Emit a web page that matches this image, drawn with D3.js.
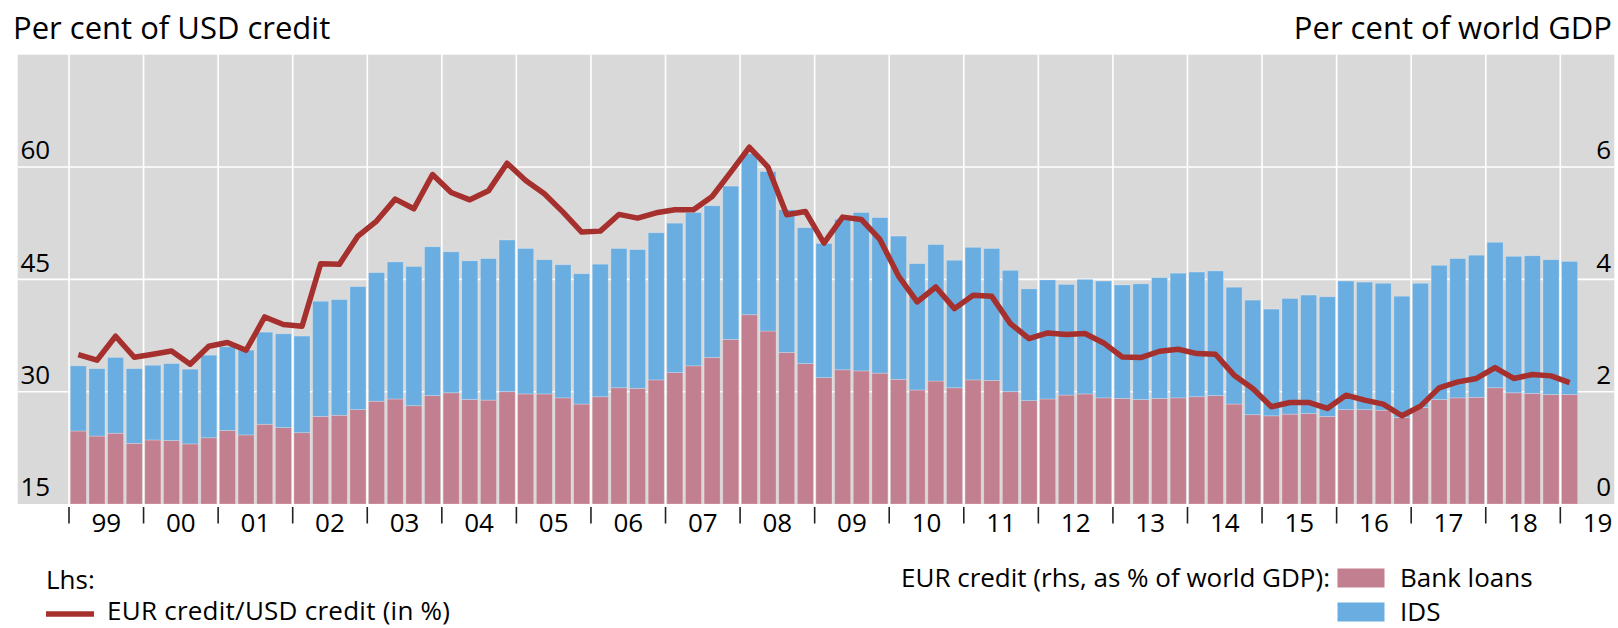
<!DOCTYPE html>
<html>
<head>
<meta charset="utf-8">
<script src="https://cdn.jsdelivr.net/npm/d3@7"></script>
<style>
    body { margin: 0; background: #fff; }
    svg { display: block; font-family: 'Open Sans', sans-serif; }
</style>
</head>
<body>
<svg id="chart"></svg>
<script>
// tick labels for the years, 1999 to 2019
const yearLabels = ['99', '00', '01', '02', '03', '04', '05', '06', '07', '08', '09',
    '10', '11', '12', '13', '14', '15', '16', '17', '18', '19'];
const firstYear = 1999;

// EUR credit, rhs, % of world GDP (quarterly, 1999Q1 - 2019Q1)
const bankLoans = [
    1.30, 1.21, 1.26, 1.08, 1.14, 1.13, 1.07, 1.18, 1.31, 1.23, 1.42, 1.36, 1.27,
    1.56, 1.58, 1.68, 1.83, 1.87, 1.75, 1.93, 1.98, 1.86, 1.85, 2.00, 1.96, 1.96,
    1.89, 1.78, 1.91, 2.07, 2.06, 2.21, 2.34, 2.46, 2.61, 2.93, 3.37, 3.08, 2.70,
    2.50, 2.25, 2.39, 2.37, 2.33, 2.22, 2.03, 2.19, 2.07, 2.21, 2.20, 2.00, 1.84,
    1.87, 1.94, 1.96, 1.89, 1.88, 1.86, 1.88, 1.89, 1.91, 1.93, 1.78, 1.59, 1.57,
    1.60, 1.61, 1.56, 1.68, 1.68, 1.67, 1.54, 1.72, 1.86, 1.89, 1.90, 2.07, 1.98,
    1.97, 1.95, 1.95
];
const ids = [
    1.16, 1.20, 1.35, 1.33, 1.33, 1.37, 1.33, 1.47, 1.49, 1.51, 1.64, 1.67, 1.72,
    2.05, 2.06, 2.19, 2.29, 2.44, 2.48, 2.65, 2.51, 2.47, 2.52, 2.70, 2.59, 2.39,
    2.37, 2.32, 2.36, 2.48, 2.47, 2.62, 2.66, 2.73, 2.70, 2.73, 2.87, 2.84, 2.54,
    2.42, 2.39, 2.68, 2.82, 2.77, 2.55, 2.25, 2.43, 2.27, 2.36, 2.35, 2.16, 1.99,
    2.12, 1.97, 2.04, 2.08, 2.02, 2.06, 2.15, 2.22, 2.22, 2.22, 2.08, 2.04, 1.90,
    2.06, 2.11, 2.13, 2.29, 2.27, 2.26, 2.16, 2.21, 2.39, 2.48, 2.53, 2.59, 2.43,
    2.45, 2.40, 2.37
];
// EUR credit / USD credit, lhs, %
const eurUsdRatio = [
    34.96, 34.2, 37.4, 34.6, 35.0, 35.44, 33.67, 36.07, 36.56, 35.53, 39.98, 38.96, 38.73,
    47.09, 47.0, 50.78, 52.78, 55.71, 54.42, 59.0, 56.6, 55.62, 56.82, 60.51, 58.2, 56.42,
    53.98, 51.31, 51.44, 53.67, 53.18, 53.89, 54.29, 54.29, 56.07, 59.31, 62.64, 59.98, 53.62,
    54.07, 49.84, 53.31, 53.0, 50.33, 45.44, 41.98, 43.98, 41.09, 42.87, 42.73, 39.09, 37.09,
    37.84, 37.62, 37.76, 36.51, 34.64, 34.56, 35.4, 35.67, 35.09, 35.0, 32.2, 30.42, 27.98,
    28.56, 28.56, 27.76, 29.53, 28.87, 28.33, 26.78, 28.07, 30.51, 31.31, 31.76, 33.22, 31.76,
    32.29, 32.11, 31.22
];
const leftTicks = [15, 30, 45, 60];
const rightTicks = [0, 2, 4, 6];

const width = 1618;
const height = 628;
const plot = { left: 17.7, right: 1614.3, top: 54.7, bottom: 504 };
const colors = { bg: '#d9d9d9', loans: '#c17f8f', ids: '#6aade0', line: '#a5302d' };

const svg = d3.select('#chart').attr('width', width).attr('height', height);

const x = d3.scaleLinear()
    .domain([1998.312, 2019.724])
    .range([plot.left, plot.right]);
const yL = d3.scaleLinear().domain([15, 75]).range([plot.bottom, plot.top]);
const yR = d3.scaleLinear().domain([0, 8]).range([plot.bottom, plot.top]);

const qWidth = x(firstYear + 0.25) - x(firstYear);
const barWidth = qWidth * 0.86;

const data = bankLoans.map((b, i) => ({
    t: firstYear + i / 4,
    loans: b,
    ids: ids[i],
    ratio: eurUsdRatio[i]
}));

// background
svg.append('rect')
    .attr('x', plot.left).attr('y', plot.top)
    .attr('width', plot.right - plot.left).attr('height', plot.bottom - plot.top)
    .attr('fill', colors.bg);

// gridlines
const years = yearLabels.map((d, i) => firstYear + i);
svg.append('g').selectAll('line')
    .data(years)
    .enter().append('line')
    .attr('x1', d => x(d)).attr('x2', d => x(d))
    .attr('y1', plot.top).attr('y2', plot.bottom)
    .attr('stroke', '#fff').attr('stroke-width', 1.6);

svg.append('g').selectAll('line')
    .data(leftTicks.slice(1))
    .enter().append('line')
    .attr('x1', plot.left).attr('x2', plot.right)
    .attr('y1', d => yL(d)).attr('y2', d => yL(d))
    .attr('stroke', '#fff').attr('stroke-width', 1.6);

// stacked bars
const bars = svg.append('g');
bars.selectAll('.loans')
    .data(data)
    .enter().append('rect')
    .attr('class', 'loans')
    .attr('x', d => x(d.t) + (qWidth - barWidth) / 2)
    .attr('width', barWidth)
    .attr('y', d => yR(d.loans))
    .attr('height', d => yR(0) - yR(d.loans))
    .attr('fill', colors.loans)
    .attr('stroke', 'rgba(255,255,255,0.3)').attr('stroke-width', 0.8);

bars.selectAll('.ids')
    .data(data)
    .enter().append('rect')
    .attr('class', 'ids')
    .attr('x', d => x(d.t) + (qWidth - barWidth) / 2)
    .attr('width', barWidth)
    .attr('y', d => yR(d.loans + d.ids))
    .attr('height', d => yR(d.loans) - yR(d.loans + d.ids))
    .attr('fill', colors.ids)
    .attr('stroke', 'rgba(255,255,255,0.3)').attr('stroke-width', 0.8);

// ratio line
const line = d3.line()
    .x(d => x(d.t + 0.125))
    .y(d => yL(d.ratio));

svg.append('path')
    .datum(data)
    .attr('d', line)
    .attr('fill', 'none')
    .attr('stroke', colors.line)
    .attr('stroke-width', 5.5)
    .attr('stroke-linejoin', 'round');

// y tick labels, inside the plot
svg.append('g').selectAll('text')
    .data(leftTicks)
    .enter().append('text')
    .attr('x', 20.5)
    .attr('y', d => yL(d) - 7.7)
    .attr('font-size', 26)
    .text(d => d);

svg.append('g').selectAll('text')
    .data(rightTicks)
    .enter().append('text')
    .attr('x', 1611)
    .attr('y', d => yR(d) - 7.7)
    .attr('text-anchor', 'end')
    .attr('font-size', 26)
    .text(d => d);

// x axis: ticks on the year boundaries, labels mid-year
svg.append('g').selectAll('line')
    .data(years)
    .enter().append('line')
    .attr('x1', d => x(d)).attr('x2', d => x(d))
    .attr('y1', 507).attr('y2', 523.5)
    .attr('stroke', '#222').attr('stroke-width', 1.6);

svg.append('g').selectAll('text')
    .data(years)
    .enter().append('text')
    .attr('x', d => x(d + 0.5))
    .attr('y', 531.5)
    .attr('text-anchor', 'middle')
    .attr('font-size', 26)
    .text((d, i) => yearLabels[i]);

// axis titles
svg.append('text')
    .attr('x', 13).attr('y', 39)
    .attr('font-size', 31)
    .text('Per cent of USD credit');

svg.append('text')
    .attr('x', 1612).attr('y', 39)
    .attr('text-anchor', 'end')
    .attr('font-size', 31)
    .text('Per cent of world GDP');

// legend
const legend = svg.append('g').attr('font-size', 26);
legend.append('text').attr('x', 46).attr('y', 589).text('Lhs:');
legend.append('line')
    .attr('x1', 46).attr('x2', 94)
    .attr('y1', 614).attr('y2', 614)
    .attr('stroke', colors.line).attr('stroke-width', 5.5);
legend.append('text').attr('x', 107).attr('y', 620)
    .attr('textLength', 343)
    .text('EUR credit/USD credit (in %)');

legend.append('text')
    .attr('x', 1330).attr('y', 587)
    .attr('text-anchor', 'end')
    .text('EUR credit (rhs, as % of world GDP):');
legend.append('rect')
    .attr('x', 1337.5).attr('y', 568.5)
    .attr('width', 47).attr('height', 19)
    .attr('fill', colors.loans);
legend.append('text').attr('x', 1400).attr('y', 587).text('Bank loans');
legend.append('rect')
    .attr('x', 1337.5).attr('y', 602.5)
    .attr('width', 47).attr('height', 19)
    .attr('fill', colors.ids);
legend.append('text').attr('x', 1400).attr('y', 621).text('IDS');
</script>
</body>
</html>
